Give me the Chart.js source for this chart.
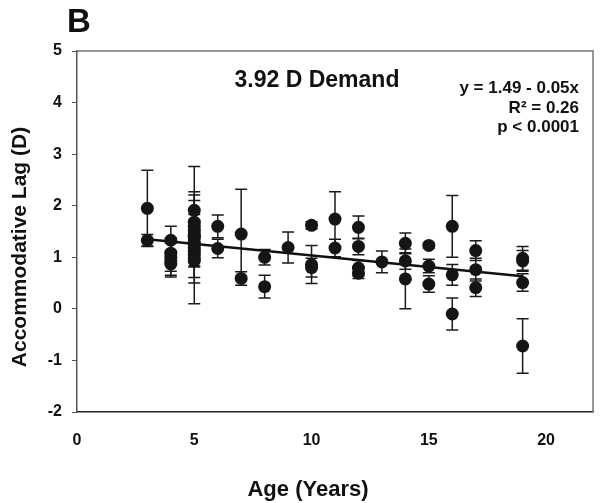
<!DOCTYPE html>
<html><head><meta charset="utf-8">
<script src="https://cdn.jsdelivr.net/npm/chart.js@4"></script>
<style>html,body{margin:0;padding:0;background:#fff}#wrap{width:600px;height:503px}</style>
</head><body><div id="wrap"><canvas id="c" width="600" height="503"></canvas></div>
<script>
// Age (years) of each subject
const ages = [3,3, 4,4,4,4,4, 5,5,5,5,5,5,5,5,5,5,5,5,5,5, 6,6, 7,7, 8,8, 9, 10,10,10, 11,11, 12,12,12,12, 13, 14,14,14, 15,15,15, 16,16,16, 17,17,17, 19,19,19,19];
// Mean accommodative lag (D)
const lagMeans = [1.95,1.33, 1.33,1.08,1.0,0.93,0.87, 1.91,1.68,1.6,1.52,1.43,1.41,1.38,1.3,1.25,1.18,1.12,1.05,0.98,0.93, 1.6,1.17, 1.45,0.59, 1.0,0.43, 1.19, 1.62,0.86,0.8, 1.74,1.18, 1.58,1.21,0.79,0.69, 0.91, 1.27,0.93,0.58, 1.23,0.83,0.48, 1.6,0.66,-0.1, 1.13,0.76,0.41, 0.98,0.93,0.51,-0.72];
// Error bar half-length (D)
const lagErrors = [0.74,0.11, 0.27,0.2,0.38,0.2,0.22, 0.36,0.15,0.12,0.15,1.33,0.8,0.12,0.8,0.15,0.12,0.15,0.12,0.15,0.12, 0.22,0.18, 0.87,0.13, 0.15,0.22, 0.3, 0.07,0.37,0.18, 0.53,0.17, 0.22,0.16,0.15,0.1, 0.21, 0.2,0.16,0.58, 0.05,0.13,0.16, 0.6,0.2,0.31, 0.19,0.22,0.17, 0.23,0.2,0.17,0.53];
// Regression line endpoints (age, lag)
const fitX = [3, 19];
const fitY = [1.35, 0.63];
const xTicks = [0,5,10,15,20];
const yTicks = [-2,-1,0,1,2,3,4,5];

const points = ages.map((a,i)=>({x:a, y:lagMeans[i], e:lagErrors[i]}));
const fitLine = fitX.map((a,i)=>({x:a, y:fitY[i]}));

const FONT = '"Liberation Sans", Arial, sans-serif';

const errorBars = {
  id:'errorBars',
  beforeDatasetsDraw(chart){
    const ctx = chart.ctx, xs = chart.scales.x, ys = chart.scales.y;
    ctx.save();
    ctx.strokeStyle = '#1a1a1a';
    ctx.lineWidth = 1.5;
    points.forEach(p=>{
      const px = xs.getPixelForValue(p.x);
      const top = ys.getPixelForValue(p.y + p.e);
      const bot = ys.getPixelForValue(p.y - p.e);
      ctx.beginPath();
      ctx.moveTo(px, top); ctx.lineTo(px, bot);
      ctx.moveTo(px-6, top); ctx.lineTo(px+6, top);
      ctx.moveTo(px-6, bot); ctx.lineTo(px+6, bot);
      ctx.stroke();
    });
    ctx.restore();
  }
};

const decor = {
  id:'decor',
  afterDraw(chart){
    const ctx = chart.ctx, a = chart.chartArea;
    ctx.save();
    ctx.strokeStyle = '#777'; ctx.lineWidth = 1.5;
    ctx.beginPath();
    ctx.moveTo(a.left, a.top); ctx.lineTo(a.right, a.top); ctx.lineTo(a.right, a.bottom);
    ctx.stroke();
    ctx.fillStyle = '#111';
    ctx.textBaseline = 'alphabetic';
    ctx.font = 'bold 33px ' + FONT;
    ctx.textAlign = 'left';
    ctx.fillText('B', 67, 32);
    ctx.font = 'bold 23px ' + FONT;
    ctx.textAlign = 'center';
    ctx.fillText('3.92 D Demand', 317, 87);
    ctx.font = 'bold 17px ' + FONT;
    ctx.textAlign = 'right';
    ctx.fillText('y = 1.49 - 0.05x', 579, 93);
    ctx.fillText('R\u00B2 = 0.26', 579, 113);
    ctx.fillText('p < 0.0001', 579, 132);
    ctx.font = 'bold 22px ' + FONT;
    ctx.textAlign = 'center';
    ctx.fillText('Age (Years)', 308, 496);
    ctx.font = 'bold 21px ' + FONT;
    ctx.translate(26, 247);
    ctx.rotate(-Math.PI/2);
    ctx.fillText('Accommodative Lag (D)', 0, 0);
    ctx.restore();
  }
};

new Chart(document.getElementById('c'), {
  type:'scatter',
  data:{datasets:[
    {label:'fit', type:'line', data:fitLine, borderColor:'#111', borderWidth:2.5, pointRadius:0, fill:false, order:2},
    {label:'lag', data:points, backgroundColor:'#151515', borderColor:'#151515', pointRadius:6.5, pointHoverRadius:6.5, borderWidth:0, order:1}
  ]},
  options:{
    responsive:false, animation:false,
    layout:{padding:{left:0, top:51, right:7, bottom:0}},
    plugins:{legend:{display:false}, tooltip:{enabled:false}},
    scales:{
      x:{type:'linear', min:0, max:22,
        afterFit(s){ s.height = 91; },
        afterBuildTicks(s){ s.ticks = xTicks.map(v=>({value:v})); },
        grid:{display:false, drawOnChartArea:false, drawTicks:true, tickLength:6, tickColor:'#333'},
        border:{display:true, color:'#222', width:1.5},
        ticks:{padding:13, color:'#111', font:{family:FONT, size:16, weight:'bold'}, maxRotation:0}
      },
      y:{type:'linear', min:-2, max:5,
        afterFit(s){ s.width = 77; },
        afterBuildTicks(s){ s.ticks = yTicks.map(v=>({value:v})); },
        grid:{display:true, drawOnChartArea:false, drawTicks:true, tickLength:5, tickColor:'#555'},
        border:{display:true, color:'#555', width:1.5},
        ticks:{padding:10, color:'#111', font:{family:FONT, size:16, weight:'bold'}}
      }
    }
  },
  plugins:[errorBars, decor]
});
</script></body></html>
